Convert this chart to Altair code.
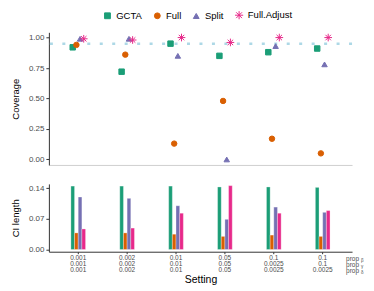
import altair as alt
import pandas as pd

settings = ["0.001|0.001|0.001", "0.002|0.002|0.002", "0.01|0.01|0.01",
            "0.05|0.05|0.05", "0.1|0.0025|0.0025", "0.1|0.1|0.0025"]
methods = ["GCTA", "Full", "Split", "Full.Adjust"]
colors = ["#1B9E77", "#D95F02", "#7570B3", "#E7298A"]
asterisk = "M-1.4,0L1.4,0M0,-1.4L0,1.4M-1,-1L1,1M-1,1L1,-1"
shapes = ["square", "circle", "triangle-up", asterisk]

coverage = {
    "GCTA": [0.92, 0.72, 0.95, 0.85, 0.88, 0.91],
    "Full": [0.94, 0.86, 0.13, 0.48, 0.17, 0.05],
    "Split": [0.99, 0.99, 0.85, 0.00, 0.93, 0.78],
    "Full.Adjust": [0.99, 0.98, 1.00, 0.96, 1.00, 1.00],
}
ci_length = {
    "GCTA": [0.145, 0.145, 0.145, 0.143, 0.143, 0.142],
    "Full": [0.038, 0.038, 0.035, 0.030, 0.033, 0.030],
    "Split": [0.120, 0.117, 0.100, 0.069, 0.097, 0.085],
    "Full.Adjust": [0.047, 0.049, 0.083, 0.146, 0.083, 0.089],
}
target = 0.95
cov_ticks = [0, 0.25, 0.5, 0.75, 1.0]
ci_ticks = [0, 0.07, 0.14]

rows = []
for m in methods:
    for i, s in enumerate(settings):
        rows.append({"setting": s, "method": m,
                     "coverage": coverage[m][i], "ci": ci_length[m][i]})
df = pd.DataFrame(rows)

FONT = "Liberation Sans"
xscale = alt.Scale(domain=settings, paddingInner=0.7, paddingOuter=0.45)
offscale = alt.Scale(domain=methods, paddingInner=0, paddingOuter=0)
yscale_top = alt.Scale(domain=[-0.045, 1.043], nice=False, zero=False)
yaxis_top = alt.Axis(values=cov_ticks, format=".2f", title="Coverage",
                     labelOverlap=False, titlePadding=8)

legend = alt.Legend(orient="none", legendX=54, legendY=-22, direction="horizontal",
                    title=None, symbolSize=34, labelFontSize=9.5, labelFont=FONT,
                    labelColor="#000000", columnPadding=9, symbolStrokeWidth=1,
                    labelOffset=4)

rule = alt.Chart(pd.DataFrame({"t": [target]})).mark_rule(
    color="#add8e6", strokeWidth=2.5, strokeDash=[3, 9.5]
).encode(y=alt.Y("t:Q", scale=yscale_top, axis=yaxis_top))

points = alt.Chart(df).mark_point(filled=True, opacity=1, strokeWidth=1, size=30).encode(
    x=alt.X("setting:N", sort=settings, scale=xscale,
            axis=alt.Axis(labels=False, ticks=False, title=None,
                          domainColor="#d0d0d0", domainWidth=1)),
    xOffset=alt.XOffset("method:N", sort=methods, scale=offscale),
    y=alt.Y("coverage:Q", scale=yscale_top, axis=yaxis_top),
    fill=alt.Fill("method:N", sort=methods, scale=alt.Scale(domain=methods, range=colors),
                  legend=legend),
    stroke=alt.Stroke("method:N", sort=methods, scale=alt.Scale(domain=methods, range=colors),
                      legend=legend),
    shape=alt.Shape("method:N", sort=methods, scale=alt.Scale(domain=methods, range=shapes),
                    legend=legend),
)

top = alt.layer(rule, points).properties(width=304, height=133)

bars = alt.Chart(df).mark_bar(stroke="#ffffff", strokeOpacity=0.5, strokeWidth=0.6).encode(
    x=alt.X("setting:N", sort=settings, scale=xscale,
            axis=alt.Axis(title="Setting", labelExpr="split(datum.label, '|')",
                          labelLineHeight=6, labelFontSize=6.5, labelAngle=0,
                          tickSize=2, labelPadding=1, titlePadding=1,
                          titleFontSize=10.5, domainColor="#333333")),
    xOffset=alt.XOffset("method:N", sort=methods, scale=offscale),
    y=alt.Y("ci:Q", scale=alt.Scale(domain=[-0.005, 0.150], nice=False, zero=False),
            axis=alt.Axis(values=ci_ticks, format=".2f", title="CI length",
                          labelOverlap=False, titlePadding=8)),
    color=alt.Color("method:N", sort=methods, scale=alt.Scale(domain=methods, range=colors),
                    legend=None),
)

one = pd.DataFrame({"a": [0]})
prop = alt.Chart(one).mark_text(
    text=["prop", "prop", "prop"], lineHeight=6, fontSize=6.5, font=FONT,
    color="#4d4d4d", align="left", baseline="middle"
).encode(x=alt.value(298), y=alt.value(75))
subs = alt.Chart(one).mark_text(
    text=["β", "γ", "δ"], lineHeight=6, fontSize=4.5, font=FONT,
    color="#4d4d4d", align="left", baseline="middle"
).encode(x=alt.value(313), y=alt.value(77))

bottom = alt.layer(bars, prop, subs).properties(width=304, height=68)

chart = alt.vconcat(top, bottom, spacing=19).resolve_scale(
    x="independent", y="independent"
).properties(
    padding={"left": 2, "top": 2, "right": 2, "bottom": 2}
).configure_view(stroke=None).configure_axis(
    labelFont=FONT, titleFont=FONT, labelColor="#4d4d4d", labelFontSize=8,
    titleFontSize=9.5, titleColor="#000000", titleFontWeight="normal",
    grid=False, domainColor="#333333", tickColor="#333333", tickSize=3,
    labelPadding=2, titlePadding=4
).configure_concat(spacing=19)

chart.save("out.html", embed_options={"renderer": "svg", "actions": False})
